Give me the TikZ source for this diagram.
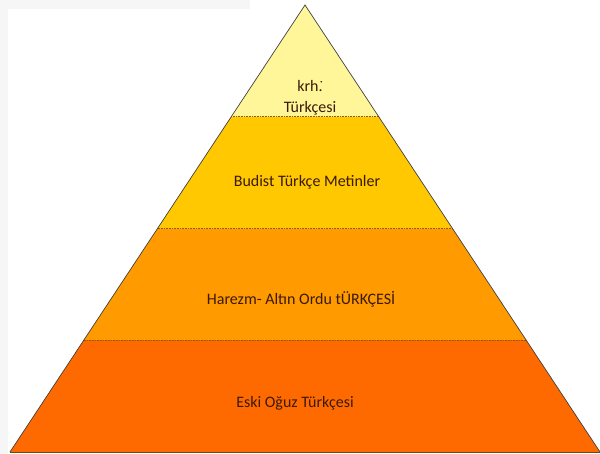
\documentclass[tikz,border=0pt]{standalone}
\usepackage{fontspec}
\usetikzlibrary{calc}
\setmainfont{Carlito}
\definecolor{lay1}{HTML}{FFF69A}
\definecolor{lay2}{HTML}{FFC800}
\definecolor{lay3}{HTML}{FF9A00}
\definecolor{lay4}{HTML}{FF6A00}
\definecolor{txt}{HTML}{3A1A08}
\definecolor{sep}{HTML}{8A5A10}
\definecolor{wm}{HTML}{F6F6F6}
\tikzset{
  lbl/.style={font=\fontsize{16}{19}\selectfont, text=txt, inner sep=0pt},
  sepline/.style={sep, line width=0.9pt, dash pattern=on 1pt off 0.6pt},
  edge/.style={draw=black!75, line width=0.7pt}
}
\begin{document}
\begin{tikzpicture}[x=1pt,y=-1pt]
\useasboundingbox (0,0) rectangle (600,454);
\fill[white] (0,0) rectangle (600,454);
% faint watermark strips
\fill[wm] (0,0) rectangle (250,9);
\fill[wm] (0,9) rectangle (8,454);
% layers
\fill[lay1] (305,5) -- (378.75,116.75) -- (231.25,116.75) -- cycle;
\fill[lay2] (231.25,116.75) -- (378.75,116.75) -- (452.5,228.5) -- (157.5,228.5) -- cycle;
\fill[lay3] (157.5,228.5) -- (452.5,228.5) -- (526.25,340.25) -- (83.75,340.25) -- cycle;
\fill[lay4] (83.75,340.25) -- (526.25,340.25) -- (600,452) -- (10,452) -- cycle;
% separators
\draw[sepline] (231.25,116.75) -- (378.75,116.75);
\draw[sepline] (157.5,228.5) -- (452.5,228.5);
\draw[sepline] (83.75,340.25) -- (526.25,340.25);
% outline
\draw[edge] (10,452) -- (305,5) -- (600,452);
\draw[draw=sep!80!black, line width=1.4pt] (10,452.5) -- (600,452.5);
% labels
\node[lbl] (t1a) at (310,86) {krh.};
\node[lbl] (t1b) at (310,108) {Türkçesi};
\fill[txt] ($(t1a.north east)+(-1.6,1.5)$) circle (0.9pt);
\node[lbl] (t2) at (307,182) {Budist Türkçe Metinler};
\node[lbl] (t3) at (301,299) {Harezm- Altın Ordu tÜRKÇESİ};
\node[lbl] (t4) at (295,403) {Eski Oğuz Türkçesi};
\end{tikzpicture}
\end{document}
